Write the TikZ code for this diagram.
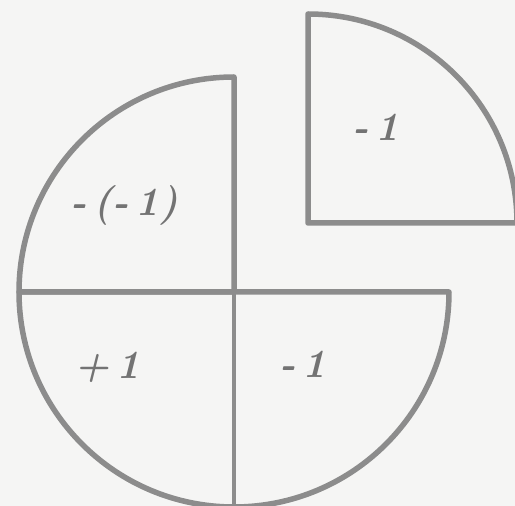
\documentclass[tikz,border=0pt]{standalone}
\usepackage{tikz}
\definecolor{bgc}{RGB}{245,245,244}
\definecolor{ink}{RGB}{140,140,140}
\definecolor{txt}{RGB}{115,115,115}
\tikzset{
  piece/.style={draw=ink, line width=5.5pt, line join=round, line cap=round},
  lbl/.style={text=txt, font=\fontsize{40}{40}\selectfont\bfseries\itshape, inner sep=0pt}
}
\begin{document}
\begin{tikzpicture}[x=1pt,y=1pt]
\fill[bgc] (0,0) rectangle (515,506);
\useasboundingbox (0,0) rectangle (515,506);
\clip (0,0) rectangle (515,506);
% lower half
\draw[piece] (19,214) arc[start angle=180,end angle=360,radius=215] -- cycle;
% upper-left quadrant
\draw[piece] (234,214) -- (234,429) arc[start angle=90,end angle=180,radius=215] -- cycle;
% vertical divider
\draw[piece, line width=4.5pt] (234,214) -- (234,-1);
% detached quadrant
\draw[piece] (308,283) -- (308,492) arc[start angle=90,end angle=0,radius=209] -- cycle;
\node[lbl] (a) at (124,301) {-\,(-\,1)};
\node[lbl] (b) at (107,139) {+\,1};
\node[lbl] (c) at (303,142) {-\,1};
\node[lbl] (d) at (376,379) {-\,1};
\end{tikzpicture}
\end{document}
